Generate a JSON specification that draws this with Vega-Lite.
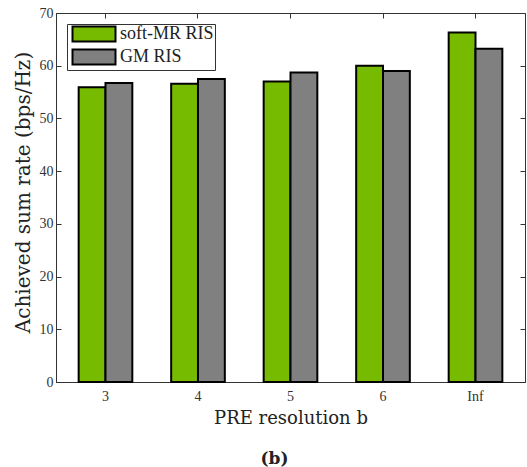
{
  "$schema": "https://vega.github.io/schema/vega-lite/v6.json",
  "autosize": {"type": "none"},
  "width": 469,
  "height": 369,
  "padding": {"left": 56, "top": 13, "right": 2, "bottom": 85},
  "background": "white",
  "title": {"text": "(b)", "orient": "bottom", "font": "DejaVu Serif", "fontSize": 17, "fontWeight": "bold", "color": "#222", "offset": 24, "dx": -16},
  "config": {
    "view": {"stroke": "#333", "strokeWidth": 1},
    "axis": {"domainColor": "#333", "tickColor": "#333", "labelColor": "#333", "titleColor": "#222", "labelFont": "Liberation Serif", "titleFont": "DejaVu Serif", "grid": false, "tickSize": -5, "labelFontSize": 14, "titleFontSize": 18, "titleFontWeight": "normal"}
  },
  "data": {"values": [
    {"b": "3", "method": "soft-MR RIS", "rate": 55.9},
    {"b": "3", "method": "GM RIS", "rate": 56.7},
    {"b": "4", "method": "soft-MR RIS", "rate": 56.6},
    {"b": "4", "method": "GM RIS", "rate": 57.5},
    {"b": "5", "method": "soft-MR RIS", "rate": 57.0},
    {"b": "5", "method": "GM RIS", "rate": 58.7},
    {"b": "6", "method": "soft-MR RIS", "rate": 60.0},
    {"b": "6", "method": "GM RIS", "rate": 59.0},
    {"b": "Inf", "method": "soft-MR RIS", "rate": 66.3},
    {"b": "Inf", "method": "GM RIS", "rate": 63.2}
  ]},
  "layer": [
    {
      "mark": {"type": "bar", "stroke": "black", "strokeWidth": 2, "opacity": 1},
      "encoding": {
        "x": {"field": "b", "type": "nominal", "sort": ["3", "4", "5", "6", "Inf"],
              "scale": {"paddingInner": 0.42, "paddingOuter": 0.245},
              "axis": {"title": "PRE resolution b", "labelAngle": 0, "labelPadding": 7, "titlePadding": 6, "ticks": false}},
        "xOffset": {"field": "method", "type": "nominal", "sort": ["soft-MR RIS", "GM RIS"], "scale": {"paddingInner": 0, "paddingOuter": 0}},
        "y": {"field": "rate", "type": "quantitative", "scale": {"domain": [0, 70], "nice": false},
              "axis": {"title": "Achieved sum rate (bps/Hz)", "titleFontSize": 20, "titleY": 179, "values": [0, 10, 20, 30, 40, 50, 60, 70], "labelPadding": 8, "titlePadding": 6}},
        "fill": {"field": "method", "type": "nominal", "sort": ["soft-MR RIS", "GM RIS"],
                 "scale": {"domain": ["soft-MR RIS", "GM RIS"], "range": ["#77BB00", "#808080"]},
                 "legend": {"title": null, "orient": "none", "legendX": 11, "legendY": 11, "padding": 1, "fillColor": "white", "strokeColor": "#333",
                            "symbolType": "M-0.6,-1L5.133,-1L5.133,1L-0.6,1Z", "symbolSize": 225, "symbolStrokeColor": "black", "symbolStrokeWidth": 2, "symbolOpacity": 1,
                            "labelFont": "Liberation Serif", "labelFontSize": 18, "labelColor": "#222", "labelOffset": 34, "rowPadding": -1}}
      }
    },
    {
      "mark": {"type": "rule", "opacity": 0},
      "encoding": {
        "x": {"field": "b", "type": "nominal", "sort": ["3", "4", "5", "6", "Inf"],
              "scale": {"paddingInner": 0.42, "paddingOuter": 0.245},
              "axis": {"orient": "top", "title": null, "labels": false, "domain": false}},
        "y": {"field": "rate", "type": "quantitative", "scale": {"domain": [0, 70], "nice": false},
              "axis": {"orient": "right", "title": null, "labels": false, "values": [0, 10, 20, 30, 40, 50, 60, 70], "domain": false}}
      }
    }
  ],
  "resolve": {"scale": {"x": "independent", "y": "independent"}}
}
